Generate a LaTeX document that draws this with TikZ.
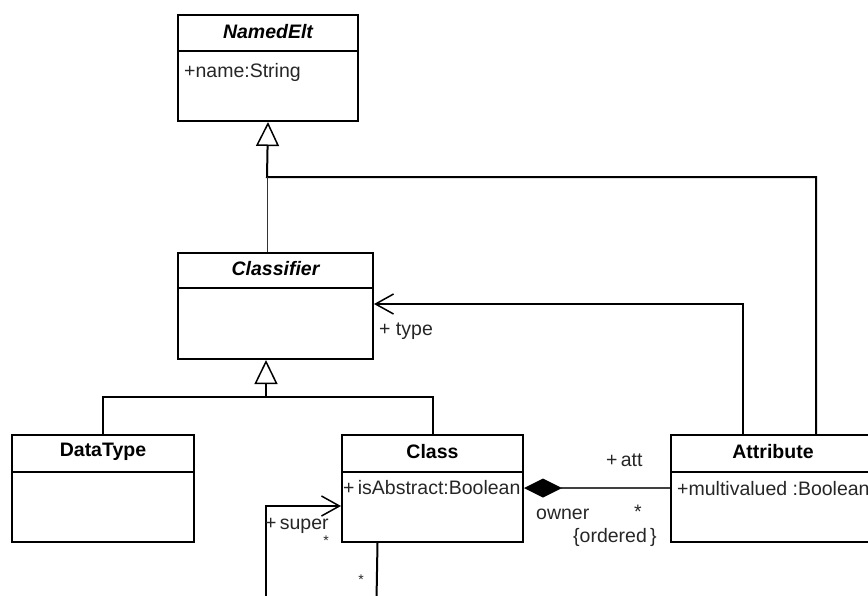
\documentclass[tikz,border=0pt]{standalone}
\usepackage{fontspec}
\setmainfont{Liberation Sans}
\usetikzlibrary{arrows.meta}
\begin{document}
\begin{tikzpicture}[x=1pt,y=-1pt,
 classbox/.style={draw, line width=2pt, rectangle, anchor=north west, inner sep=0pt},
 ctitle/.style={font=\fontsize{19.5}{22}\selectfont\bfseries, inner sep=0pt},
 attr/.style={font=\fontsize{19.5}{22}\selectfont, inner sep=0pt, anchor=west, text=black!85},
 lbl/.style={font=\fontsize{19.5}{22}\selectfont, inner sep=0pt, text=black!85},
 small/.style={font=\fontsize{14}{16}\selectfont, inner sep=0pt, text=black!85},
 divider/.style={line width=2pt},
 conn/.style={line width=2pt},
 thinconn/.style={line width=1pt, black!80},
 gen/.style={conn, -{Triangle[open, length=24pt, width=23pt, line width=1.5pt]}},
 nav/.style={conn, -{Straight Barb[length=18pt, width=20pt, line width=1.5pt]}},
 comp/.style={line width=1.5pt, black!75, {Diamond[length=38pt, width=19pt, fill=black, line width=0pt]}-}
]
\useasboundingbox (0,0) rectangle (868,595);

% class boxes
\node[classbox, minimum width=180pt, minimum height=106pt] (named) at (177,14) {};
\node[classbox, minimum width=195pt, minimum height=106pt] (classifier) at (177,252) {};
\node[classbox, minimum width=182pt, minimum height=107pt] (datatype) at (11,434) {};
\node[classbox, minimum width=181pt, minimum height=107pt] (class) at (341,434) {};
\node[classbox, minimum width=204pt, minimum height=107pt] (attribute) at (670,434) {};

% dividers
\draw[divider] ([yshift=-37pt]named.north west) -- ([yshift=-37pt]named.north east);
\draw[divider] ([yshift=-36pt]classifier.north west) -- ([yshift=-36pt]classifier.north east);
\draw[divider] ([yshift=-38pt]datatype.north west) -- ([yshift=-38pt]datatype.north east);
\draw[divider] ([yshift=-38pt]class.north west) -- ([yshift=-38pt]class.north east);
\draw[divider] ([yshift=-38pt]attribute.north west) -- ([yshift=-38pt]attribute.north east);

% titles
\node[ctitle] (namedT) at ([yshift=-18pt]named.north) {\itshape NamedElt};
\node[ctitle] (classifierT) at ([yshift=-17pt]classifier.north) {\itshape Classifier};
\node[ctitle] (datatypeT) at ([yshift=-18pt]datatype.north) {DataType};
\node[ctitle] (classT) at ([yshift=-18pt]class.north) {Class};
\node[ctitle] (attributeT) at ([yshift=-18pt]attribute.north) {Attribute};

% attributes
\node[attr] (namedA) at ([xshift=7pt,yshift=-58pt]named.north west) {+name:String};
\node[attr] (classA) at ([xshift=2pt,yshift=-54pt]class.north west) {+\,isAbstract:Boolean};
\node[attr] (attributeA) at ([xshift=7pt,yshift=-55pt]attribute.north west) {+multivalued :Boolean};

% junction coordinates
\coordinate (j1) at (267,177);
\coordinate (j2) at (266,397);
\coordinate (sb1) at (376.5,600);
\coordinate (sb2) at (266,600);

% generalization to NamedElt
\draw[gen] ([xshift=43pt]attribute.north) |- (j1) -- (named.south);
\draw[thinconn] (classifier.north -| j1) -- (j1);

% generalization to Classifier
\draw[gen] (datatype.north) |- (j2) -- (j2 |- classifier.south);
\draw[conn] (class.north) |- (j2);

% type association
\draw[nav] ([xshift=-30pt]attribute.north) |- ([yshift=-52pt]classifier.north east);
\node[lbl, anchor=west] (typeL) at (379,331) {+ type};

% composition
\draw[comp] ([yshift=-54pt]class.north east) -- ([yshift=-54pt]attribute.north west);
\node[lbl, anchor=west] (attL) at (606,460) {+\,att};
\node[lbl, anchor=west] (ownerL) at (536,514) {owner};
\node[lbl] (starA) at (638,512) {*};
\node[lbl, anchor=west] (orderedL) at (573,537) {\{ordered\,\}};

% self association super
\draw[conn] ([xshift=-55pt]class.south) -- (sb1);
\draw[nav] (sb2) |- ([yshift=-72pt]class.north west);
\node[lbl, anchor=west] (superL) at (265,526) {+\,super};
\node[small] (starS1) at (326,541) {*};
\node[small] (starS2) at (361,580) {*};
\end{tikzpicture}
\end{document}
